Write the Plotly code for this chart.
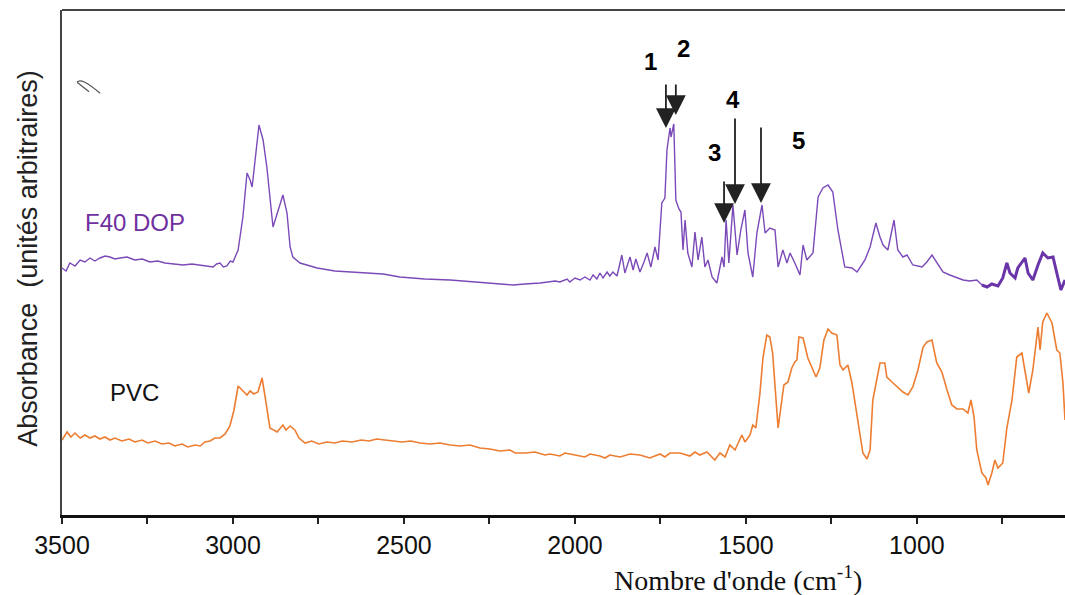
import plotly.graph_objects as go

# ---------------- data ----------------
# F40 DOP spectrum : wavenumber (cm-1) and absorbance (arbitrary units)
f40_wn = [3500, 3488, 3477, 3462, 3447, 3433, 3418, 3404, 3389, 3374, 3360, 3345, 3330, 3310, 3287,
          3265, 3243, 3220, 3199, 3170, 3146, 3120, 3096, 3075, 3058, 3048, 3038, 3028, 3018, 3008,
          3000, 2985, 2971, 2959, 2950, 2944, 2936, 2924, 2912, 2901, 2883, 2871, 2863, 2854, 2842,
          2833, 2825, 2804, 2754, 2702, 2658, 2561, 2512, 2439, 2365, 2292, 2219, 2181, 2146, 2102,
          2058, 2044, 2023, 2015, 2000, 1985, 1971, 1956, 1947, 1936, 1927, 1918, 1906, 1898, 1889,
          1877, 1863, 1854, 1839, 1830, 1822, 1810, 1798, 1789, 1778, 1766, 1757, 1746, 1737, 1731,
          1722, 1719, 1711, 1705, 1696, 1690, 1684, 1678, 1670, 1658, 1649, 1640, 1629, 1620, 1611,
          1599, 1585, 1570, 1564, 1558, 1550, 1538, 1526, 1515, 1503, 1494, 1480, 1468, 1453, 1444,
          1430, 1415, 1406, 1392, 1380, 1371, 1357, 1342, 1333, 1322, 1304, 1289, 1275, 1260, 1246,
          1231, 1211, 1190, 1175, 1152, 1137, 1120, 1108, 1099, 1085, 1067, 1056, 1041, 1029, 1012,
          985, 971, 956, 942, 924, 904, 883, 865, 845, 825, 810, 795, 781, 763, 749,
          737, 728, 713, 705, 684, 675, 661, 646, 632, 617, 602, 591, 579, 567]
f40_abs = [247, 244, 252, 249, 255, 253, 257, 254, 257, 259, 258, 256, 257, 258, 255,
           256, 253, 254, 252, 251, 250, 251, 250, 249, 248, 251, 252, 248, 249, 254,
           253, 265, 298, 342, 335, 328, 355, 390, 375, 348, 288, 300, 310, 320, 302,
           268, 258, 252, 247, 244, 243, 241, 238, 236, 235, 233, 231, 230, 231, 232,
           234, 233, 236, 233, 237, 235, 238, 235, 240, 236, 242, 237, 243, 239, 243,
           239, 260, 242, 258, 245, 256, 243, 253, 262, 248, 268, 255, 312, 317, 365,
           387, 378, 391, 315, 306, 303, 265, 295, 262, 248, 283, 255, 278, 248, 255,
           238, 232, 258, 248, 295, 252, 310, 260, 285, 305, 262, 238, 282, 310, 282,
           287, 285, 248, 265, 252, 262, 252, 240, 270, 255, 262, 318, 327, 330, 323,
           285, 248, 247, 243, 255, 268, 292, 278, 270, 265, 295, 265, 258, 260, 250,
           248, 253, 260, 252, 243, 240, 237, 235, 234, 235, 230, 228, 231, 229, 237,
           252, 242, 237, 247, 257, 242, 235, 250, 262, 257, 258, 242, 225, 235]

# PVC spectrum
pvc_wn = [3500, 3485, 3474, 3462, 3447, 3433, 3418, 3404, 3389, 3374, 3360, 3345, 3325, 3304, 3287,
          3266, 3249, 3228, 3208, 3187, 3170, 3149, 3132, 3111, 3096, 3082, 3067, 3053, 3038, 3023,
          3009, 2997, 2985, 2974, 2959, 2950, 2939, 2927, 2915, 2906, 2892, 2871, 2854, 2845, 2833,
          2819, 2807, 2789, 2770, 2749, 2725, 2702, 2680, 2652, 2625, 2602, 2580, 2556, 2530, 2506,
          2480, 2453, 2424, 2395, 2365, 2336, 2307, 2278, 2249, 2219, 2190, 2175, 2146, 2117, 2088,
          2073, 2044, 2029, 2000, 1971, 1956, 1927, 1912, 1898, 1868, 1839, 1810, 1781, 1751, 1737,
          1722, 1693, 1664, 1649, 1635, 1614, 1591, 1576, 1561, 1547, 1532, 1512,
          1503, 1488, 1480, 1471, 1459, 1450, 1439, 1430, 1422, 1415, 1406, 1395, 1389, 1377, 1366,
          1357, 1351, 1345, 1333, 1319, 1307, 1295, 1284, 1272, 1260, 1249, 1234, 1225, 1216, 1202,
          1190, 1178, 1167, 1158, 1146, 1137, 1129, 1117, 1108, 1094, 1088, 1073, 1058, 1041, 1026,
          1012, 997, 982, 971, 956, 942, 927, 912, 898, 883, 865, 851, 842, 833, 825,
          810, 798, 792, 781, 772, 763, 749, 737, 722, 708, 693, 684, 673, 661, 646,
          640, 632, 620, 605, 591, 582, 573, 567]
pvc_abs = [75, 83, 78, 82, 77, 80, 77, 79, 76, 78, 75, 77, 74, 76, 73,
           75, 72, 74, 71, 72, 69, 71, 68, 70, 69, 73, 74, 77, 77, 81,
           89, 105, 129, 125, 120, 124, 121, 123, 137, 118, 87, 83, 90, 85, 89,
           85, 77, 72, 74, 71, 73, 72, 74, 73, 75, 74, 76, 75, 74, 73,
           74, 72, 71, 72, 70, 69, 70, 67, 66, 64, 65, 62, 62, 63, 60,
           61, 59, 62, 60, 58, 61, 59, 57, 60, 58, 61, 60, 57, 61, 58,
           62, 62, 59, 63, 60, 63, 55, 62, 58, 70, 65, 80,
           73, 80, 90, 87, 122, 158, 180, 178, 162, 125, 87, 115, 130, 133, 147,
           153, 155, 178, 177, 157, 148, 138, 147, 175, 186, 182, 180, 150, 145, 150,
           132, 107, 82, 62, 56, 65, 115, 135, 152, 152, 138, 133, 128, 123, 120,
           128, 145, 168, 173, 175, 152, 143, 125, 110, 106, 106, 102, 115, 98, 65,
           42, 37, 30, 42, 55, 47, 52, 87, 115, 158, 162, 145, 122, 145, 188,
           165, 193, 202, 192, 165, 162, 132, 95]

x_tick_vals = [3500, 3250, 3000, 2750, 2500, 2250, 2000, 1750, 1500, 1250, 1000, 750]
x_tick_text = ["3500", "", "3000", "", "2500", "", "2000", "", "1500", "", "1000", ""]

peak_labels = ["1", "2", "3", "4", "5"]
peak_label_wn = [1778, 1684, 1591, 1538, 1345]
peak_label_abs = [454, 467, 363, 416, 375]
arrow_wn = [1734, 1705, 1564, 1532, 1456]
arrow_tail_abs = [432, 432, 335, 398, 389]
arrow_tip_abs = [387, 400, 292, 311, 312]

# ---------------- figure ----------------
PURPLE = "#7B4AB8"
ORANGE = "#ED7D31"

fig = go.Figure()
fig.add_trace(go.Scatter(x=pvc_wn, y=pvc_abs, mode="lines",
                         line=dict(color=ORANGE, width=1.6), showlegend=False))
fig.add_trace(go.Scatter(x=f40_wn, y=f40_abs, mode="lines",
                         line=dict(color=PURPLE, width=1.4), showlegend=False))
# thicker end of the F40 DOP trace
split = next(i for i, w in enumerate(f40_wn) if w <= 810)
fig.add_trace(go.Scatter(x=f40_wn[split:], y=f40_abs[split:], mode="lines",
                         line=dict(color="#6A35A8", width=3), showlegend=False))

annotations = []
for lab, xw, ya in zip(peak_labels, peak_label_wn, peak_label_abs):
    annotations.append(dict(x=xw, y=ya, xref="x", yref="y", text="<b>%s</b>" % lab,
                            showarrow=False, font=dict(family="Liberation Sans, Arial", size=24, color="black")))
for xw, yt, yh in zip(arrow_wn, arrow_tail_abs, arrow_tip_abs):
    annotations.append(dict(x=xw, y=yh, ax=xw, ay=yt, xref="x", yref="y", axref="x", ayref="y",
                            text="", showarrow=True, arrowhead=2, arrowsize=2.2, arrowwidth=1.8,
                            arrowcolor="#222222"))
annotations.append(dict(x=3287, y=293, xref="x", yref="y", text="F40 DOP", showarrow=False,
                        font=dict(family="Liberation Sans, Arial", size=24, color="#7030A0")))
annotations.append(dict(x=3289, y=123, xref="x", yref="y", text="PVC", showarrow=False,
                        font=dict(family="Liberation Sans, Arial", size=24, color="#111111")))
annotations.append(dict(x=0.674, y=-0.125, xref="paper", yref="paper",
                        text="Nombre d'onde (cm<sup>-1</sup>)", showarrow=False,
                        xanchor="center", yanchor="middle",
                        font=dict(family="Liberation Serif, Times New Roman", size=28, color="#111111")))
annotations.append(dict(x=-0.034, y=0.509, xref="paper", yref="paper",
                        text="Absorbance  (unités arbitraires)", showarrow=False, textangle=-90,
                        xanchor="center", yanchor="middle",
                        font=dict(family="Liberation Sans, Arial", size=27, color="#222222")))

fig.update_layout(
    width=1065, height=595,
    margin=dict(l=62, r=0, t=10, b=80),
    paper_bgcolor="white", plot_bgcolor="white",
    annotations=annotations,
    shapes=[dict(type="line", xref="paper", yref="paper", x0=0, x1=1, y0=1, y1=1,
                 line=dict(color="#444444", width=2)),
            dict(type="path", xref="paper", yref="paper",
                 path="M 0.015,0.857 Q 0.019,0.868 0.038,0.835 M 0.015,0.857 L 0.027,0.838",
                 line=dict(color="#555555", width=1.2))],
)
fig.update_xaxes(range=[3500, 567], tickmode="array", tickvals=x_tick_vals, ticktext=x_tick_text,
                 ticks="outside", ticklen=6, tickwidth=1.5, tickcolor="#222222",
                 showline=True, linecolor="#111111", linewidth=3, showgrid=False, zeroline=False,
                 tickfont=dict(family="Liberation Sans, Arial", size=25, color="#111111"))
fig.update_yaxes(range=[0, 505], showticklabels=False, ticks="", showline=True,
                 linecolor="#444444", linewidth=2, showgrid=False, zeroline=False)

fig.write_html("out.html")
